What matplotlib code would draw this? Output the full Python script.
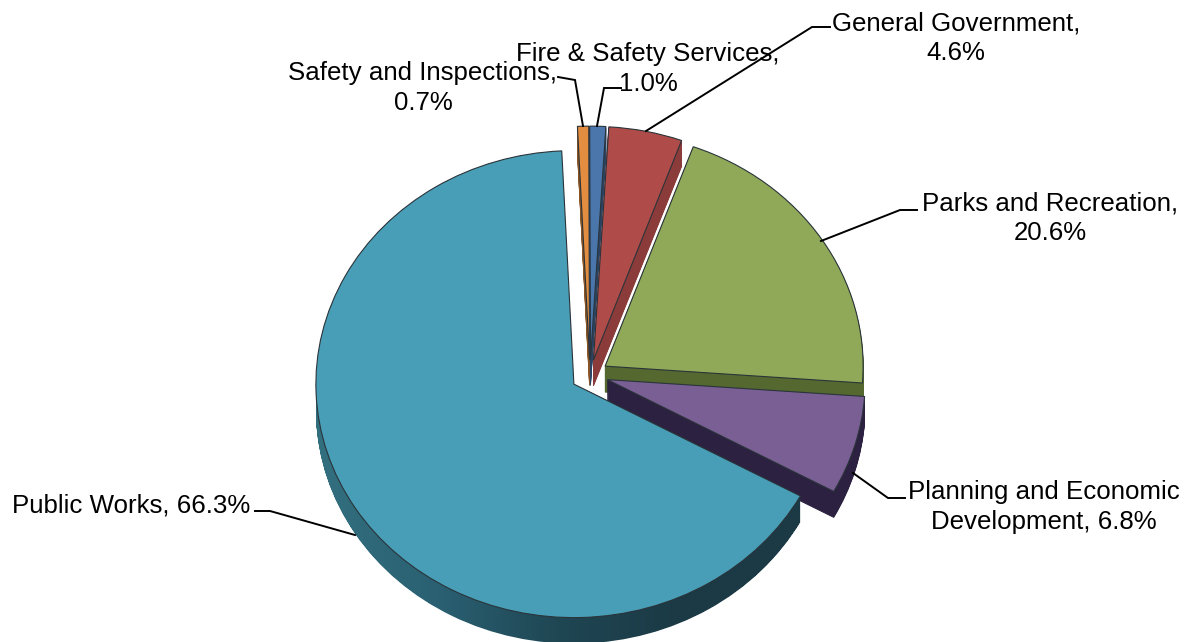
import numpy as np
import matplotlib
matplotlib.use("Agg")
import matplotlib.pyplot as plt
from matplotlib.path import Path
from matplotlib.patches import PathPatch
from matplotlib.colors import LinearSegmentedColormap

plt.rcParams['font.family'] = ['Liberation Sans', 'DejaVu Sans']

categories = ["Safety and Inspections", "Fire & Safety Services", "General Government",
              "Parks and Recreation", "Planning and Economic Development", "Public Works"]
values = [0.7, 1.0, 4.6, 20.6, 6.8, 66.3]
label_texts = ["Safety and Inspections,\n0.7%", "Fire & Safety Services,\n1.0%",
               "General Government,\n4.6%", "Parks and Recreation,\n20.6%",
               "Planning and Economic\nDevelopment, 6.8%", "Public Works, 66.3%"]

top_colors = ["#E28D3F", "#4A76AB", "#AF4C49", "#90A958", "#7A5F95", "#489EB6"]
wall_colors = ["#8A5526", "#2B4464", "#8B3B39", "#546830", "#2C2140", "#1B3A45"]
explode = [17, 17, 17, 18, 18, 19]
label_xy = [(423, 88), (648, 69), (956, 38), (1050, 218), (1044, 507), (131, 505)]
leaders = [[(558, 77), (575, 80), (583, 126)],
           [(621, 88), (604, 88), (597, 126)],
           [(830, 27), (812, 27), (646, 131)],
           [(917, 210), (900, 210), (821, 241)],
           [(905, 498), (888, 498), (853, 473)],
           [(255, 511), (270, 511), (355, 535)]]

W, H = 1187, 642
CX, CY, SQ, R, DEPTH = 590, 375, 0.905, 258, 26


def dx(px):
    return px - CX


def dy(py):
    return (CY - py) / SQ


fig = plt.figure(figsize=(W / 100, H / 100), dpi=100, facecolor="white")
ax = fig.add_axes([0, 0, 1, 1])

START = 92.7
public_paths = []
for d in range(DEPTH, 0, -1):
    wedges, _ = ax.pie(values, explode=explode, radius=R, startangle=START, counterclock=False,
                       center=(0, -d / SQ), colors=wall_colors, labeldistance=None,
                       wedgeprops=dict(linewidth=0.6, edgecolor="none"), frame=True)
    for i, w in enumerate(wedges):
        w.set_zorder(10 + 10 * i)
        w.set_edgecolor(wall_colors[i])
    public_paths.append(wedges[-1].get_path())
    wedges[-1].set_visible(False)

tops, _ = ax.pie(values, explode=explode, radius=R, startangle=START, counterclock=False,
                 center=(0, 0), colors=top_colors, labeldistance=None,
                 wedgeprops=dict(linewidth=0.8, edgecolor="#2a343a"), frame=True)
for i, w in enumerate(tops):
    w.set_zorder(15 + 10 * i)

# shaded rim of the large slice
public_paths.append(tops[-1].get_path())
clip = PathPatch(Path.make_compound_path(*public_paths), transform=ax.transData,
                 facecolor="none", edgecolor="none")
ax.add_patch(clip)
cmap = LinearSegmentedColormap.from_list("rim", ["#33707F", "#2A6072", "#1F4653", "#1B3A45", "#1B3A45"])
im = ax.imshow(np.linspace(0, 1, 256)[None, :], extent=(dx(316), dx(802), dy(644), dy(390)),
               aspect="auto", cmap=cmap, zorder=60)
im.set_clip_path(clip)

for text, (x, y) in zip(label_texts, label_xy):
    ax.text(dx(x), dy(y), text, ha="center", va="center", fontsize=18.6, color="black",
            linespacing=1.28, zorder=100)
for pts in leaders:
    ax.plot([dx(p[0]) for p in pts], [dy(p[1]) for p in pts], color="black", lw=1.4,
            solid_joinstyle="miter", zorder=90)

ax.set_aspect("auto")
ax.set_xlim(dx(0), dx(W))
ax.set_ylim(dy(H), dy(0))
ax.axis("off")
fig.savefig("out.png", dpi=100)
